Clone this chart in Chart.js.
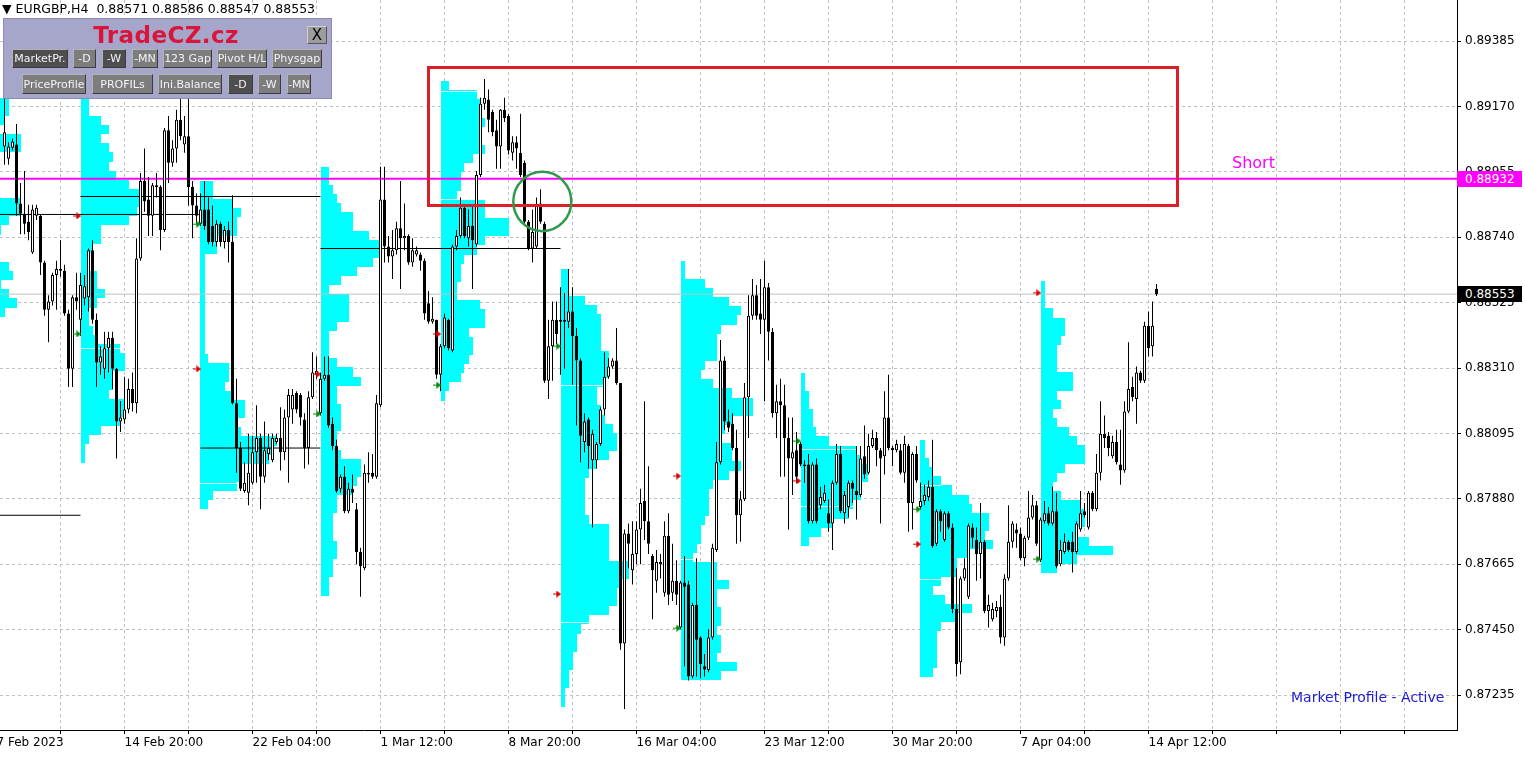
<!DOCTYPE html>
<html>
<head>
<meta charset="utf-8">
<title>EURGBP,H4</title>
<script src="https://cdn.jsdelivr.net/npm/chart.js@4.4.1/dist/chart.umd.min.js"></script>
<style>
  html, body { margin: 0; padding: 0; background: #fff; }
  .wrap { position: relative; width: 1525px; height: 759px; overflow: hidden; font-family: "DejaVu Sans", sans-serif; }
  #c { position: absolute; left: 0; top: 0; }
  .hdr { position: absolute; left: 2px; top: 1px; font-size: 12.5px; line-height: 15px; color: #000; white-space: pre; }
  .panel { position: absolute; left: 3px; top: 18px; width: 327px; height: 79px; background: #a6a6ca; border: 1px solid #8c8cb2; }
  .brand { position: absolute; left: 0; width: 324px; top: 3px; text-align: center; font-weight: bold; font-size: 23px; letter-spacing: 0.4px; color: #d8163c; }
  .xbtn { position: absolute; left: 303px; top: 7px; width: 18px; height: 16px; background: #9c9c9c; border: 1px solid; border-color: #d0d0d0 #555 #555 #d0d0d0; font-size: 15px; line-height: 16px; text-align: center; color: #000; }
  .btn { position: absolute; height: 19px; display: flex; align-items: center; justify-content: center; overflow: hidden; white-space: nowrap;
         background: #7d7d7d; color: #f4f4f4; font-size: 11px; border: 1px solid; border-color: #b4b4b4 #3c3c3c #3c3c3c #b4b4b4; box-sizing: border-box; }
  .btn.dark { background: #4e4e4e; }
  .r1 { top: 30px; }
  .r2 { top: 55px; height: 20px; }
  .tag { position: absolute; left: 1457px; width: 65px; height: 16px; line-height: 16px; padding-left: 8px; box-sizing: border-box; font-size: 12px; color: #fff; }
  .note { position: absolute; white-space: nowrap; }
</style>
</head>
<body>
<div class="wrap">
  <canvas id="c" width="1525" height="759"></canvas>
  <div class="hdr">▼ EURGBP,H4  0.88571 0.88586 0.88547 0.88553</div>
  <div class="panel">
    <div class="brand">TradeCZ.cz</div>
    <div class="xbtn">X</div>
    <div class="btn r1 dark" style="left:8px;width:56px">MarketPr.</div>
    <div class="btn r1" style="left:69px;width:23px">-D</div>
    <div class="btn r1 dark" style="left:98px;width:24px">-W</div>
    <div class="btn r1" style="left:128px;width:26px">-MN</div>
    <div class="btn r1" style="left:159px;width:49px">123 Gap</div>
    <div class="btn r1" style="left:213px;width:50px">Pivot H/L</div>
    <div class="btn r1" style="left:268px;width:50px">Physgap</div>
    <div class="btn r2" style="left:18px;width:64px">PriceProfile</div>
    <div class="btn r2" style="left:88px;width:61px">PROFILs</div>
    <div class="btn r2" style="left:154px;width:64px">Ini.Balance</div>
    <div class="btn r2 dark" style="left:224px;width:25px">-D</div>
    <div class="btn r2" style="left:254px;width:23px">-W</div>
    <div class="btn r2" style="left:283px;width:24px">-MN</div>
  </div>
  <div id="shortTxt" class="note" style="left:1232px;font-size:16px;color:#ff00ff">Short</div>
  <div class="note" style="left:1291px;top:689px;font-size:14px;color:#1c1cd6">Market Profile - Active</div>
  <div id="tagShort" class="tag" style="background:#ff00ff">0.88932</div>
  <div id="tagBid" class="tag" style="background:#000">0.88553</div>
</div>
<script>
// one H4 bar per x unit, first candle (7 Feb 20:00) is bar 1
const timeTickBars = [-1, 31, 63, 95, 127, 159, 191, 223, 255, 287];
const timeLabels = ["7 Feb 2023", "14 Feb 20:00", "22 Feb 04:00", "1 Mar 12:00", "8 Mar 20:00",
  "16 Mar 04:00", "23 Mar 12:00", "30 Mar 20:00", "7 Apr 04:00", "14 Apr 12:00"];
const gridBars = [-1, 15, 31, 47, 63, 79, 95, 111, 127, 143, 159, 175, 191, 207, 223, 239, 255, 271, 287, 303, 319, 335, 351];
const priceTicks = [0.87235, 0.87450, 0.87665, 0.87880, 0.88095, 0.88310, 0.88525, 0.88740, 0.88955, 0.89170, 0.89385];

const candleOpen = [
  0.89038,0.88998,0.89034,0.89045,0.88851,0.88817,0.88791,0.88690,0.88811,0.88811,0.88657,0.88502,0.88529,0.88616,0.88636,0.88630,0.88489,0.88308,0.88543,
  0.88469,0.88539,0.88543,0.88697,0.88469,0.88328,0.88308,0.88375,0.88409,0.88308,0.88134,0.88141,0.88174,0.88241,0.88194,0.88670,0.88925,0.88864,0.88811,0.88911,0.88905,0.88764,0.89092,0.88985,0.89032,0.89126,0.89045,0.89072,0.88905,0.88844,
  0.88784,0.88831,0.88831,0.88777,0.88724,0.88784,0.88724,0.88764,0.88724,0.88194,0.88047,0.87906,0.87900,0.87933,0.88033,0.88080,0.87953,0.88027,0.88007,0.88067,0.88080,0.88033,0.88147,0.88174,0.88228,0.88221,0.88141,0.88047,0.88214,0.88288,
  0.88161,0.88275,0.88288,0.88127,0.88054,0.87913,0.87953,0.87839,0.87913,0.87846,0.87705,0.87652,0.87960,0.87966,0.87953,0.88188,0.88864,0.88710,0.88677,0.88697,0.88770,0.88737,0.88744,0.88657,0.88683,0.88683,0.88663,0.88523,0.88462,0.88469,
  0.88288,0.88382,0.88469,0.88368,0.88710,0.88744,0.88837,0.88737,0.88777,0.88717,0.88945,0.89179,0.89193,0.89152,0.89092,0.89038,0.89159,0.89139,0.89018,0.89052,0.89018,0.88985,0.88791,0.88703,0.88710,0.88851,0.88784,0.88268,0.88382,0.88469,
  0.88462,0.88469,0.88462,0.88496,0.88415,0.88335,0.88067,0.88141,0.88007,0.88007,0.88060,0.88174,0.88281,0.88315,0.88335,0.88261,0.87404,0.87766,0.87645,0.87699,0.87779,0.87873,0.87806,0.87692,0.87611,0.87665,0.87571,0.87759,0.87571,0.87611,
  0.87457,0.87605,0.87598,0.87296,0.87531,0.87424,0.87330,0.87317,0.87424,0.87712,0.88000,0.88335,0.88134,0.88127,0.88047,0.87826,0.87879,0.88214,0.88482,0.88549,0.88489,0.88469,0.88576,0.88429,0.88161,0.88201,0.88188,0.88080,0.88013,0.88040,
  0.88060,0.87993,0.87993,0.87806,0.87993,0.87859,0.87873,0.87833,0.87799,0.87933,0.88027,0.87833,0.87853,0.87933,0.87906,0.87893,0.88020,0.87966,0.88054,0.88080,0.88040,0.88020,0.88147,0.88047,0.88040,0.88040,0.87966,0.88054,0.87866,0.88027,
  0.87853,0.87873,0.87886,0.87920,0.87732,0.87839,0.87745,0.87833,0.87786,0.87518,0.87343,0.87618,0.87558,0.87786,0.87745,0.87699,0.87739,0.87511,0.87484,0.87511,0.87524,0.87424,0.87618,0.87739,0.87779,0.87766,0.87685,0.87752,0.87819,0.87859,
  0.87678,0.87806,0.87833,0.87799,0.87839,0.87665,0.87705,0.87739,0.87739,0.87705,0.87779,0.87839,0.87786,0.87900,0.87846,0.87966,0.88094,0.88087,0.88020,0.88067,0.87993,0.87973,0.88167,0.88248,0.88208,0.88295,0.88268,0.88449,0.88382,0.88571
];
const candleHigh = [
  0.89199,0.89052,0.89065,0.89112,0.88918,0.88958,0.88847,0.88847,0.88847,0.88815,0.88663,0.88549,0.88623,0.88663,0.88730,0.88650,0.88502,0.88549,0.88623,
  0.88623,0.88616,0.88703,0.88730,0.88489,0.88382,0.88429,0.88429,0.88429,0.88310,0.88201,0.88281,0.88275,0.88295,0.88737,0.88951,0.89032,0.88938,0.88918,0.88951,0.88911,0.89099,0.89139,0.89059,0.89159,0.89199,0.89139,0.89199,0.88925,0.88884,
  0.88884,0.88925,0.88871,0.88844,0.88797,0.88791,0.88777,0.88791,0.88878,0.88275,0.88067,0.88000,0.88094,0.88087,0.88188,0.88094,0.88134,0.88094,0.88094,0.88094,0.88181,0.88174,0.88241,0.88241,0.88234,0.88228,0.88161,0.88234,0.88362,0.88348,
  0.88295,0.88348,0.88348,0.88147,0.88074,0.87960,0.87987,0.87933,0.87960,0.87866,0.87719,0.87993,0.88033,0.88027,0.88221,0.88972,0.88972,0.88744,0.88764,0.88791,0.88925,0.88851,0.88750,0.88737,0.88710,0.88690,0.88670,0.88563,0.88543,0.88469,
  0.88389,0.88489,0.88472,0.88715,0.88764,0.88871,0.88844,0.88831,0.88844,0.88958,0.89199,0.89260,0.89226,0.89159,0.89126,0.89162,0.89199,0.89146,0.89072,0.89072,0.89146,0.88992,0.88797,0.88831,0.88871,0.88898,0.88791,0.88469,0.88529,0.88529,
  0.88576,0.88556,0.88636,0.88576,0.88442,0.88342,0.88161,0.88147,0.88107,0.88067,0.88181,0.88362,0.88342,0.88342,0.88442,0.88261,0.87779,0.87799,0.87806,0.87806,0.87913,0.88201,0.87987,0.87699,0.87712,0.87699,0.87806,0.87833,0.87732,0.87678,
  0.87611,0.87692,0.87611,0.87538,0.87685,0.87428,0.87370,0.87451,0.87732,0.88067,0.88402,0.88348,0.88174,0.88161,0.88107,0.87906,0.88261,0.88549,0.88603,0.88583,0.88603,0.88663,0.88590,0.88442,0.88255,0.88275,0.88255,0.88147,0.88147,0.88100,
  0.88067,0.88007,0.88027,0.88000,0.88013,0.87920,0.87926,0.87879,0.87940,0.88060,0.88054,0.87906,0.87940,0.87940,0.88054,0.88054,0.88121,0.88094,0.88107,0.88100,0.88047,0.88234,0.88288,0.88054,0.88074,0.88060,0.88087,0.88060,0.88033,0.88054,
  0.87933,0.87926,0.87940,0.88074,0.87846,0.87846,0.87839,0.87839,0.87799,0.87652,0.87625,0.87685,0.87799,0.87799,0.87786,0.87866,0.87745,0.87565,0.87538,0.87544,0.87565,0.87632,0.87859,0.87806,0.87799,0.87786,0.87759,0.87906,0.87893,0.87873,
  0.87819,0.87873,0.87853,0.87920,0.87900,0.87745,0.87766,0.87745,0.87772,0.87806,0.87906,0.87866,0.87906,0.87906,0.88027,0.88201,0.88154,0.88100,0.88087,0.88107,0.88107,0.88201,0.88395,0.88281,0.88315,0.88301,0.88462,0.88496,0.88529,0.88586
];
const candleLow = [
  0.88978,0.88978,0.89025,0.88811,0.88750,0.88750,0.88730,0.88685,0.88797,0.88616,0.88482,0.88395,0.88516,0.88502,0.88610,0.88482,0.88248,0.88248,0.88502,
  0.88415,0.88516,0.88496,0.88456,0.88248,0.88288,0.88275,0.88295,0.88241,0.88013,0.88100,0.88127,0.88161,0.88167,0.88161,0.88663,0.88824,0.88744,0.88744,0.88871,0.88697,0.88757,0.88918,0.88972,0.88985,0.89059,0.89018,0.88844,0.88737,0.88784,
  0.88777,0.88764,0.88717,0.88710,0.88710,0.88710,0.88703,0.88657,0.88190,0.87966,0.87906,0.87900,0.87859,0.87926,0.87933,0.87846,0.87933,0.88007,0.88000,0.88060,0.87973,0.88007,0.87933,0.88127,0.88161,0.88121,0.87980,0.87993,0.88208,0.88275,
  0.88154,0.88268,0.88114,0.88040,0.87900,0.87900,0.87833,0.87833,0.87866,0.87665,0.87558,0.87645,0.87933,0.87946,0.87946,0.88181,0.88657,0.88657,0.88603,0.88683,0.88570,0.88697,0.88650,0.88643,0.88677,0.88630,0.88469,0.88456,0.88456,0.88275,
  0.88234,0.88375,0.88368,0.88362,0.88697,0.88737,0.88737,0.88710,0.88570,0.88710,0.88938,0.89159,0.89085,0.89072,0.88965,0.88965,0.89119,0.89012,0.88992,0.88965,0.88938,0.88784,0.88697,0.88657,0.88703,0.88784,0.88261,0.88208,0.88268,0.88389,
  0.88288,0.88308,0.88442,0.88255,0.88121,0.88000,0.88033,0.87980,0.87786,0.87980,0.88054,0.88154,0.88275,0.88308,0.88255,0.87384,0.87189,0.87652,0.87598,0.87665,0.87665,0.87745,0.87699,0.87484,0.87571,0.87618,0.87558,0.87531,0.87544,0.87531,
  0.87451,0.87330,0.87283,0.87290,0.87296,0.87290,0.87296,0.87310,0.87417,0.87705,0.87993,0.88107,0.88100,0.88040,0.87732,0.87739,0.87873,0.88080,0.88469,0.88469,0.88422,0.88201,0.88335,0.88147,0.88080,0.87953,0.87953,0.87779,0.87893,0.87933,
  0.87987,0.87933,0.87799,0.87799,0.87799,0.87846,0.87866,0.87772,0.87712,0.87926,0.87833,0.87799,0.87819,0.87866,0.87812,0.87886,0.87946,0.87960,0.88047,0.87987,0.87799,0.87960,0.88040,0.87987,0.88033,0.87960,0.87933,0.87772,0.87779,0.87933,
  0.87846,0.87859,0.87873,0.87719,0.87725,0.87772,0.87739,0.87779,0.87504,0.87296,0.87303,0.87611,0.87551,0.87719,0.87611,0.87618,0.87504,0.87457,0.87477,0.87491,0.87404,0.87397,0.87611,0.87719,0.87719,0.87678,0.87658,0.87745,0.87812,0.87725,
  0.87672,0.87799,0.87792,0.87792,0.87652,0.87658,0.87699,0.87705,0.87638,0.87699,0.87772,0.87819,0.87779,0.87839,0.87839,0.87940,0.88047,0.88020,0.88013,0.87993,0.87926,0.87966,0.88161,0.88201,0.88127,0.88261,0.88261,0.88348,0.88348,0.88547
];
const candleClose = [
  0.89085,0.89038,0.89055,0.88851,0.88817,0.88784,0.88757,0.88831,0.88837,0.88657,0.88502,0.88529,0.88616,0.88636,0.88630,0.88489,0.88308,0.88543,0.88529,
  0.88583,0.88579,0.88697,0.88469,0.88328,0.88348,0.88375,0.88409,0.88308,0.88134,0.88147,0.88174,0.88241,0.88194,0.88670,0.88925,0.88858,0.88811,0.88911,0.88905,0.88764,0.89092,0.88985,0.89032,0.89126,0.89072,0.89072,0.88905,0.88844,0.88811,
  0.88831,0.88777,0.88724,0.88724,0.88784,0.88724,0.88764,0.88724,0.88194,0.88047,0.87913,0.87933,0.87966,0.88033,0.88080,0.87953,0.88040,0.88047,0.88080,0.88080,0.88033,0.88147,0.88221,0.88221,0.88174,0.88147,0.88047,0.88214,0.88295,0.88301,
  0.88275,0.88288,0.88121,0.88054,0.87906,0.87953,0.87839,0.87913,0.87900,0.87705,0.87658,0.87966,0.87966,0.87953,0.88194,0.88864,0.88710,0.88677,0.88697,0.88770,0.88737,0.88744,0.88657,0.88697,0.88697,0.88663,0.88489,0.88462,0.88472,0.88288,
  0.88382,0.88476,0.88375,0.88710,0.88744,0.88837,0.88744,0.88777,0.88730,0.88945,0.89179,0.89199,0.89126,0.89085,0.89038,0.89159,0.89132,0.89025,0.89052,0.89032,0.88945,0.88791,0.88703,0.88757,0.88844,0.88791,0.88268,0.88382,0.88469,0.88422,
  0.88469,0.88462,0.88496,0.88415,0.88335,0.88087,0.88134,0.88054,0.88094,0.88060,0.88174,0.88281,0.88315,0.88335,0.88261,0.87404,0.87766,0.87732,0.87699,0.87779,0.87866,0.87806,0.87732,0.87645,0.87672,0.87672,0.87759,0.87565,0.87611,0.87565,
  0.87605,0.87591,0.87296,0.87531,0.87417,0.87337,0.87319,0.87424,0.87719,0.88000,0.88335,0.88134,0.88114,0.88047,0.87826,0.87879,0.88214,0.88482,0.88549,0.88482,0.88469,0.88576,0.88429,0.88161,0.88201,0.88188,0.88080,0.88013,0.88033,0.87953,
  0.87993,0.87987,0.87806,0.87993,0.87806,0.87886,0.87900,0.87799,0.87933,0.88027,0.87839,0.87893,0.87933,0.87913,0.87893,0.88013,0.87960,0.88054,0.88080,0.88040,0.88013,0.88147,0.88047,0.88040,0.88060,0.87966,0.88060,0.87866,0.88027,0.87940,
  0.87873,0.87893,0.87920,0.87725,0.87839,0.87806,0.87833,0.87786,0.87518,0.87337,0.87618,0.87652,0.87792,0.87752,0.87699,0.87739,0.87511,0.87531,0.87518,0.87524,0.87424,0.87618,0.87739,0.87799,0.87766,0.87685,0.87752,0.87819,0.87859,0.87732,
  0.87812,0.87833,0.87799,0.87839,0.87658,0.87712,0.87739,0.87712,0.87705,0.87799,0.87833,0.87826,0.87900,0.87846,0.87966,0.88094,0.88080,0.88047,0.88067,0.88000,0.87973,0.88167,0.88241,0.88214,0.88295,0.88268,0.88449,0.88375,0.88449,0.88553
];

// weekly market profiles: first bar of the week, top price, TPO count per price step
const profileStep = 0.0003;
const profileStart = [-10, 20, 50, 80, 110, 140, 170, 200, 230, 260];
const profileTop = [0.89199, 0.89199, 0.88925, 0.88972, 0.89253, 0.88637, 0.88663, 0.88295, 0.88074, 0.88596];
const profileCounts = [
  [12,12,11,9,15,15,9,8,7,7,8,15,15,12,10,8,8,8,12,13,10,12,14,11,7],
  [2,2,5,7,5,7,8,7,9,12,15,15,14,12,5,5,3,2,2,4,4,6,4,2,2,3,4,10,11,11,8,8,7,11,11,10,5,2,1,1],
  [3,3,8,10,9,9,4,4,1,1,1,1,1,1,1,1,1,1,1,2,7,7,6,8,11,11,9,10,19,18,17,10,10,9,3,2],
  [2,2,3,4,5,8,8,12,15,15,13,9,5,2,7,7,7,4,2,2,2,4,8,10,4,4,5,5,5,4,4,5,10,10,9,8,4,4,3,3,3,4,4,3,3,2,2],
  [2,9,10,10,11,10,10,11,8,6,5,5,4,11,11,17,17,11,9,6,5,5,4,4,10,11,11,7,8,8,7,6,5,2,1],
  [2,2,2,6,9,10,10,10,10,12,12,12,11,9,9,10,11,13,14,14,12,9,7,6,6,6,6,7,12,12,12,12,17,17,15,14,14,12,7,5,4,4,3,3,2,2,1,1],
  [1,1,6,8,12,15,14,10,9,9,9,6,5,8,13,18,18,13,11,10,13,13,15,12,8,7,7,7,6,5,5,4,3,9,9,12,9,9,10,10,9,10,10,9,14,10],
  [1,1,2,2,3,3,4,7,14,15,17,17,15,15,13,12,8,5,2],
  [1,1,2,3,5,8,12,13,17,17,16,18,12,9,9,5,3,6,13,9,5,4,4,4,4,3],
  [1,1,1,3,6,6,5,4,4,4,8,8,4,5,3,4,7,9,11,11,6,4,3,5,10,11,11,9,12,18,9,4]
];
// value area edges: light lines inside the profiles (profile number, price)
const vaWeek = [1, 2, 4, 4, 5, 5, 6, 7, 7, 8, 8];
const vaPrice = [0.88376, 0.87932, 0.89222, 0.88866, 0.88254, 0.87475, 0.87683, 0.88045, 0.87858, 0.87925, 0.87616];

// POC lines carried over from the profiles
const pocFrom = [-10, 20, 50, 80, -10];
const pocTo = [50, 80, 80, 140, 20];
const pocPrice = [0.88815, 0.88874, 0.88047, 0.88703, 0.87826];

// weekly high / low arrows
const markBars = [20, 50, 80, 110, 140, 170, 200, 230, 260];
const redMarks = [0.88810, 0.88307, 0.88290, 0.88422, 0.87567, 0.87955, 0.87939, 0.87731, 0.88557];
const greenMarks = [0.88422, 0.88783, 0.88159, 0.88254, 0.88382, 0.87455, 0.88070, 0.87846, 0.87682];

const shortPrice = 0.88932;
const bidPrice = 0.88553;
const zoneBars = [106.9, 294.1];
const zonePrices = [0.89300, 0.88846];
const circleBars = [128.2, 142.7];
const circlePrices = [0.88955, 0.88760];

const barIdx = candleOpen.map((_, i) => i + 1);

function arrowIcon(color) {
  const c = document.createElement('canvas');
  c.width = 8; c.height = 7;
  const g = c.getContext('2d');
  g.fillStyle = color;
  g.fillRect(0, 3, 4, 1);
  g.beginPath(); g.moveTo(3, 0); g.lineTo(8, 3.5); g.lineTo(3, 7); g.closePath(); g.fill();
  return c;
}

const profilePlugin = {
  id: 'profiles',
  beforeDatasetsDraw(chart) {
    const { ctx, chartArea, scales: { x, y } } = chart;
    ctx.save();
    ctx.beginPath();
    ctx.rect(chartArea.left, chartArea.top, chartArea.width, chartArea.height);
    ctx.clip();
    ctx.fillStyle = '#00ffff';
    profileStart.forEach((start, w) => {
      profileCounts[w].forEach((n, k) => {
        const hi = profileTop[w] - k * profileStep;
        const x0 = Math.round(x.getPixelForValue(start));
        const x1 = Math.round(x.getPixelForValue(start + n));
        const y0 = Math.round(y.getPixelForValue(hi));
        const y1 = Math.round(y.getPixelForValue(hi - profileStep));
        ctx.fillRect(x0, y0, x1 - x0, y1 - y0);
      });
    });
    ctx.fillStyle = '#d6f7f7';
    vaWeek.forEach((w, i) => {
      const k = Math.floor((profileTop[w] - vaPrice[i]) / profileStep);
      const n = profileCounts[w][k] || 0;
      const x0 = Math.round(x.getPixelForValue(profileStart[w]));
      const x1 = Math.round(x.getPixelForValue(profileStart[w] + n));
      ctx.fillRect(x0, Math.round(y.getPixelForValue(vaPrice[i])), x1 - x0, 1);
    });
    ctx.restore();
  }
};

const shapesPlugin = {
  id: 'shapes',
  afterDatasetsDraw(chart) {
    const { ctx, scales: { x, y } } = chart;
    ctx.save();
    ctx.strokeStyle = '#dc1f26';
    ctx.lineWidth = 3;
    const rx0 = Math.round(x.getPixelForValue(zoneBars[0])) + 0.5;
    const rx1 = Math.round(x.getPixelForValue(zoneBars[1])) + 0.5;
    const ry0 = Math.round(y.getPixelForValue(zonePrices[0])) + 0.5;
    const ry1 = Math.round(y.getPixelForValue(zonePrices[1])) + 0.5;
    ctx.strokeRect(rx0, ry0, rx1 - rx0, ry1 - ry0);
    const cx0 = x.getPixelForValue(circleBars[0]), cx1 = x.getPixelForValue(circleBars[1]);
    const cy0 = y.getPixelForValue(circlePrices[0]), cy1 = y.getPixelForValue(circlePrices[1]);
    ctx.strokeStyle = '#2f9a4c';
    ctx.lineWidth = 2.5;
    ctx.beginPath();
    ctx.ellipse((cx0 + cx1) / 2, (cy0 + cy1) / 2, (cx1 - cx0) / 2, (cy1 - cy0) / 2, 0, 0, Math.PI * 2);
    ctx.stroke();
    ctx.restore();
  }
};

const tickFont = { family: 'DejaVu Sans', size: 12 };
const lineSet = (pts, color, width, order) => ({
  type: 'line', data: pts, borderColor: color, borderWidth: width, pointRadius: 0, order: order
});

const chart = new Chart(document.getElementById('c'), {
  type: 'bar',
  data: {
    datasets: [
      { type: 'scatter', data: markBars.map((b, i) => ({ x: b - 0.8, y: redMarks[i] })), pointStyle: arrowIcon('#e00000'), order: -2 },
      { type: 'scatter', data: markBars.map((b, i) => ({ x: b - 0.8, y: greenMarks[i] })), pointStyle: arrowIcon('#0a8a0a'), order: -2 },
      {
        type: 'bar', data: barIdx.map((v, i) => ({ x: v, y: [candleOpen[i], candleClose[i]] })),
        backgroundColor: (c) => candleClose[c.dataIndex] > candleOpen[c.dataIndex] ? '#ffffff' : '#000000',
        borderColor: '#000', borderWidth: 1, barThickness: 3, grouped: false, borderSkipped: false,
        minBarLength: 1, inflateAmount: 0, order: 0
      },
      {
        type: 'bar', data: barIdx.map((v, i) => ({ x: v, y: [candleLow[i], candleHigh[i]] })),
        backgroundColor: '#000', borderWidth: 0, barThickness: 1, grouped: false, inflateAmount: 0, order: 1
      },
      lineSet([{ x: -2, y: shortPrice }, { x: 370, y: shortPrice }], '#ff00ff', 2, 2),
      lineSet([{ x: -2, y: bidPrice }, { x: 370, y: bidPrice }], '#c0c0c0', 1, 3),
      ...pocPrice.map((p, i) => lineSet([{ x: pocFrom[i], y: p }, { x: pocTo[i], y: p }], '#000', 1, 2))
    ]
  },
  options: {
    responsive: false,
    animation: false,
    events: [],
    layout: { padding: 0, autoPadding: false },
    plugins: { legend: { display: false }, tooltip: { enabled: false } },
    scales: {
      x: {
        type: 'linear', min: -0.125, max: 364.125, offset: false,
        grid: { color: '#c0c0c0', tickColor: '#000', tickLength: 4, offset: false },
        border: { color: '#000', dash: [3, 3] },
        ticks: {
          autoSkip: false, maxRotation: 0, minRotation: 0, align: 'start', padding: 2, color: '#000', font: tickFont,
          callback: (v) => { const k = timeTickBars.indexOf(v); return k < 0 ? '' : timeLabels[k]; }
        },
        afterBuildTicks: (a) => { a.ticks = gridBars.map(v => ({ value: v })); },
        afterFit: (s) => { s.height = 29; s.paddingLeft = 0; s.paddingRight = 0; }
      },
      y: {
        type: 'linear', position: 'right', min: 0.8712, max: 0.8952,
        grid: { color: '#c0c0c0', tickColor: '#000', tickLength: 4 },
        border: { color: '#000', dash: [3, 3] },
        ticks: { padding: 4, color: '#000', font: tickFont, callback: (v) => v.toFixed(5) },
        afterBuildTicks: (a) => { a.ticks = priceTicks.map(v => ({ value: v })); },
        afterFit: (s) => { s.width = 68; s.paddingTop = 0; s.paddingBottom = 0; }
      }
    }
  },
  plugins: [profilePlugin, shapesPlugin]
});

// price tags and the Short label follow the y scale
const ys = chart.scales.y;
const shortY = Math.round(ys.getPixelForValue(shortPrice));
const bidY = Math.round(ys.getPixelForValue(bidPrice));
document.getElementById('tagShort').style.top = (shortY - 8) + 'px';
document.getElementById('tagBid').style.top = (bidY - 8) + 'px';
document.getElementById('shortTxt').style.top = (shortY - 26) + 'px';
</script>
</body>
</html>
